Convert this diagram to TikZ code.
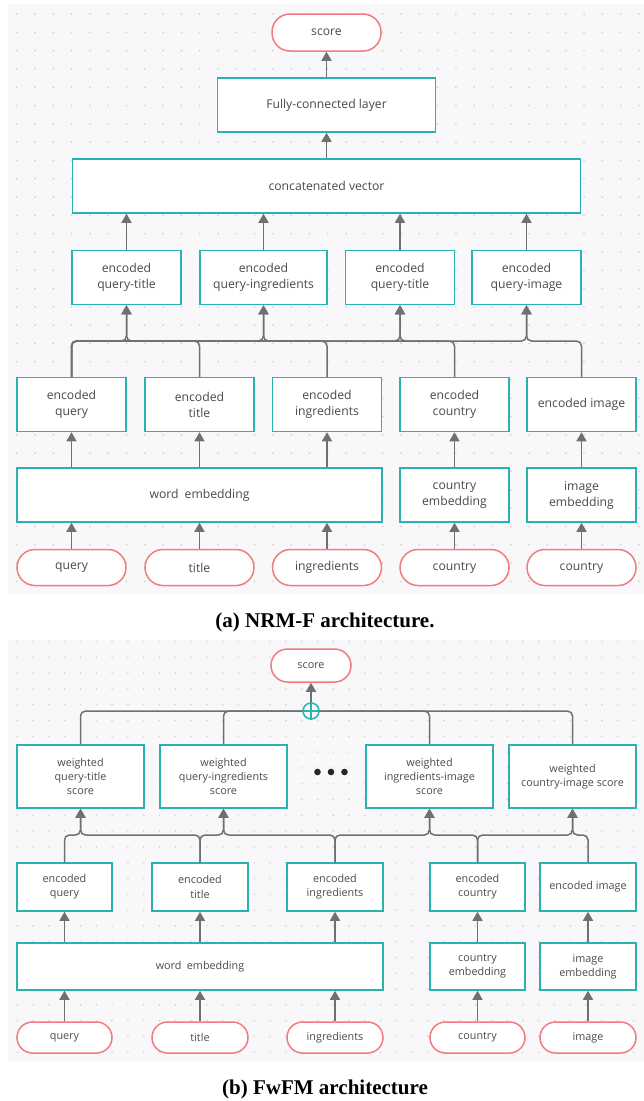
\documentclass[tikz,border=0pt]{standalone}
\usepackage{fontspec}
\setmainfont{Liberation Serif}
\newfontfamily\diagfont{Open Sans}
\usetikzlibrary{arrows.meta}
\definecolor{tealc}{HTML}{2BB1AF}
\definecolor{pinkc}{HTML}{F37A7E}
\definecolor{linec}{HTML}{707070}
\definecolor{bgc}{HTML}{F8F8FA}
\definecolor{dotc}{HTML}{D3D3D8}
\definecolor{txtc}{HTML}{4A4A4A}
\tikzset{
  tbox/.style={draw=tealc, line width=1.5pt, fill=white, inner sep=0pt, align=center, text=txtc},
  tpill/.style={draw=pinkc, line width=1.5pt, fill=white, inner sep=0pt, align=center, text=txtc},
  bigtxt/.style={font=\diagfont\fontsize{12.2}{16}\selectfont},
  smalltxt/.style={font=\diagfont\fontsize{10.8}{14.3}\selectfont},
  conn/.style={draw=linec, line width=1.5pt, -{Triangle[width=10pt,length=9pt]}},
  busline/.style={draw=linec, line width=1.5pt, rounded corners=5pt},
  busarrow/.style={busline, -{Triangle[width=10pt,length=9pt]}},
  caption/.style={font=\bfseries\fontsize{21}{23}\selectfont, text=black}
}
\begin{document}
\begin{tikzpicture}[x=1pt,y=-1pt]
\useasboundingbox (0,0) rectangle (644,1101);
% backgrounds
\fill[bgc] (8,4) rectangle (644,594);
\fill[bgc] (8,640) rectangle (644,1061);
\foreach \i in {0,...,34}{
  \foreach \j in {0,...,31}{
    \fill[dotc] (16.7+18.3*\i, 14+18.3*\j) circle (1);
  }
}
\foreach \i in {0,...,39}{
  \foreach \j in {0,...,26}{
    \fill[dotc] (17.3+15.8*\i, 641.5+15.8*\j) circle (0.9);
  }
}

% ================= panel (a) =================
\begin{scope}[bigtxt]
\node[tpill, rounded corners=18pt, minimum width=109pt, minimum height=37pt] (ascore) at (326.5,32.5) {score};
\node[tbox, minimum width=218pt, minimum height=54pt] (afc) at (326.5,105) {Fully-connected layer};
\node[tbox, minimum width=508pt, minimum height=54pt] (acat) at (326.5,186) {concatenated vector};
\node[tbox, minimum width=109pt, minimum height=54pt] (ap1) at (126.5,277.5) {encoded\\query-title};
\node[tbox, minimum width=127pt, minimum height=54pt] (ap2) at (263.5,277.5) {encoded\\query-ingredients};
\node[tbox, minimum width=109pt, minimum height=54pt] (ap3) at (400,277.5) {encoded\\query-title};
\node[tbox, minimum width=109pt, minimum height=54pt] (ap4) at (526.5,277.5) {encoded\\query-image};
\node[tbox, minimum width=109pt, minimum height=54pt] (aeq) at (71.5,404.5) {encoded\\query};
\node[tbox, minimum width=109pt, minimum height=54pt] (aet) at (199.5,404.5) {encoded\\title};
\node[tbox, minimum width=109pt, minimum height=54pt] (aei) at (327,404.5) {encoded\\ingredients};
\node[tbox, minimum width=109pt, minimum height=54pt] (aec) at (454.5,404.5) {encoded\\country};
\node[tbox, minimum width=109pt, minimum height=54pt] (aem) at (581.5,404.5) {encoded image};
\node[tbox, minimum width=365pt, minimum height=54pt] (awe) at (199.5,495) {word\enspace embedding};
\node[tbox, minimum width=109pt, minimum height=54pt] (ace) at (454.5,495) {country\\embedding};
\node[tbox, minimum width=109pt, minimum height=54pt] (ame) at (581.5,495) {image\\embedding};
\node[tpill, rounded corners=18pt, minimum width=109pt, minimum height=36pt] (aiq) at (71.5,567.5) {query};
\node[tpill, rounded corners=18pt, minimum width=109pt, minimum height=36pt] (ait) at (199.5,567.5) {title};
\node[tpill, rounded corners=18pt, minimum width=109pt, minimum height=36pt] (aii) at (327,567.5) {ingredients};
\node[tpill, rounded corners=18pt, minimum width=109pt, minimum height=36pt] (aic) at (454.5,567.5) {country};
\node[tpill, rounded corners=18pt, minimum width=109pt, minimum height=36pt] (aim) at (581.5,567.5) {country};
\end{scope}
\coordinate (abus) at (0,341);

\draw[conn] (afc.north) -- (ascore.south);
\draw[conn] (acat.north) -- (afc.south);
\foreach \p in {ap1,ap2,ap3,ap4}{
  \draw[conn] (\p.north) -- (\p.north |- acat.south);
}
% bus
\foreach \p in {ap1,ap2,ap3,ap4}{
  \draw[busarrow] (aeq.north) -- (aeq.north |- abus) -| (\p.south);
}
\draw[busarrow] (aet.north) -- (aet.north |- abus) -| (ap1.south);
\draw[busarrow] (aei.north) -- (aei.north |- abus) -| (ap2.south);
\draw[busarrow] (aec.north) -- (aec.north |- abus) -| (ap3.south);
\draw[busarrow] (aem.north) -- (aem.north |- abus) -| (ap4.south);
% embeddings
\foreach \e in {aeq,aet,aei}{
  \draw[conn] (\e.south |- awe.north) -- (\e.south);
}
\draw[conn] (ace.north) -- (aec.south);
\draw[conn] (ame.north) -- (aem.south);
\foreach \i in {aiq,ait,aii}{
  \draw[conn] (\i.north) -- (\i.north |- awe.south);
}
\draw[conn] (aic.north) -- (ace.south);
\draw[conn] (aim.north) -- (ame.south);

\node[caption] (capa) at (325,622) {(a) NRM-F architecture.};

% ================= panel (b) =================
\begin{scope}[smalltxt]
\node[tpill, rounded corners=16.5pt, minimum width=80pt, minimum height=33pt] (bscore) at (311,665.5) {score};
\node[tbox, minimum width=127pt, minimum height=63pt] (bs1) at (80.5,776.5) {weighted\\query-title\\score};
\node[tbox, minimum width=127pt, minimum height=63pt] (bs2) at (223.5,776.5) {weighted\\query-ingredients\\score};
\node[tbox, minimum width=127pt, minimum height=63pt] (bs3) at (429.5,776.5) {weighted\\ingredients-image\\score};
\node[tbox, minimum width=127pt, minimum height=63pt] (bs4) at (572.5,776.5) {weighted\\country-image score};
\node[tbox, minimum width=95pt, minimum height=48pt] (beq) at (64.5,887) {encoded\\query};
\node[tbox, minimum width=96pt, minimum height=48pt] (bet) at (200,887) {encoded\\title};
\node[tbox, minimum width=96pt, minimum height=48pt] (bei) at (335,887) {encoded\\ingredients};
\node[tbox, minimum width=95pt, minimum height=48pt] (bec) at (477.5,887) {encoded\\country};
\node[tbox, minimum width=96pt, minimum height=48pt] (bem) at (588,887) {encoded image};
\node[tbox, minimum width=366pt, minimum height=47pt] (bwe) at (200,966.5) {word\enspace embedding};
\node[tbox, minimum width=95pt, minimum height=47pt] (bce) at (477.5,966.5) {country\\embedding};
\node[tbox, minimum width=96pt, minimum height=47pt] (bme) at (588,966.5) {image\\embedding};
\node[tpill, rounded corners=15.5pt, minimum width=95pt, minimum height=31pt] (biq) at (64.5,1037.5) {query};
\node[tpill, rounded corners=15.5pt, minimum width=96pt, minimum height=31pt] (bit) at (200,1037.5) {title};
\node[tpill, rounded corners=15.5pt, minimum width=96pt, minimum height=31pt] (bii) at (335,1037.5) {ingredients};
\node[tpill, rounded corners=15.5pt, minimum width=95pt, minimum height=31pt] (bic) at (477.5,1037.5) {country};
\node[tpill, rounded corners=15.5pt, minimum width=96pt, minimum height=31pt] (bim) at (588,1037.5) {image};
\end{scope}
\node[circle, draw=tealc, line width=1.5pt, fill=white, minimum size=16pt, inner sep=0pt] (bplus) at (311,711) {};
\draw[tealc, line width=1.5pt] (bplus.north) -- (bplus.south) (bplus.west) -- (bplus.east);
\draw[conn] (bplus.north) -- (bscore.south);
\draw[busline] (bs1.north) |- (bplus.west);
\draw[busline] (bs2.north) |- (bplus.west);
\draw[busline] (bs3.north) |- (bplus.east);
\draw[busline] (bs4.north) |- (bplus.east);
% ellipsis dots
\foreach \k in {0,1,2}{
  \fill[black!85] (317.5+13.5*\k,772) circle (3.3);
}
\coordinate (bbus) at (0,835);
\draw[busarrow] (beq.north) -- (beq.north |- bbus) -| (bs1.south);
\draw[busarrow] (bet.north) -- (bet.north |- bbus) -| (bs1.south);
\draw[busarrow] (bet.north) -- (bet.north |- bbus) -| (bs2.south);
\draw[busarrow] (bei.north) -- (bei.north |- bbus) -| (bs2.south);
\draw[busarrow] (bei.north) -- (bei.north |- bbus) -| (bs3.south);
\draw[busarrow] (bec.north) -- (bec.north |- bbus) -| (bs3.south);
\draw[busarrow] (bec.north) -- (bec.north |- bbus) -| (bs4.south);
\draw[busarrow] (bem.north) -- (bem.north |- bbus) -| (bs4.south);
\foreach \e in {beq,bet,bei}{
  \draw[conn] (\e.south |- bwe.north) -- (\e.south);
}
\draw[conn] (bce.north) -- (bec.south);
\draw[conn] (bme.north) -- (bem.south);
\foreach \i in {biq,bit,bii}{
  \draw[conn] (\i.north) -- (\i.north |- bwe.south);
}
\draw[conn] (bic.north) -- (bce.south);
\draw[conn] (bim.north) -- (bme.south);

\node[caption] (capb) at (325,1089) {(b) FwFM architecture};
\end{tikzpicture}
\end{document}
